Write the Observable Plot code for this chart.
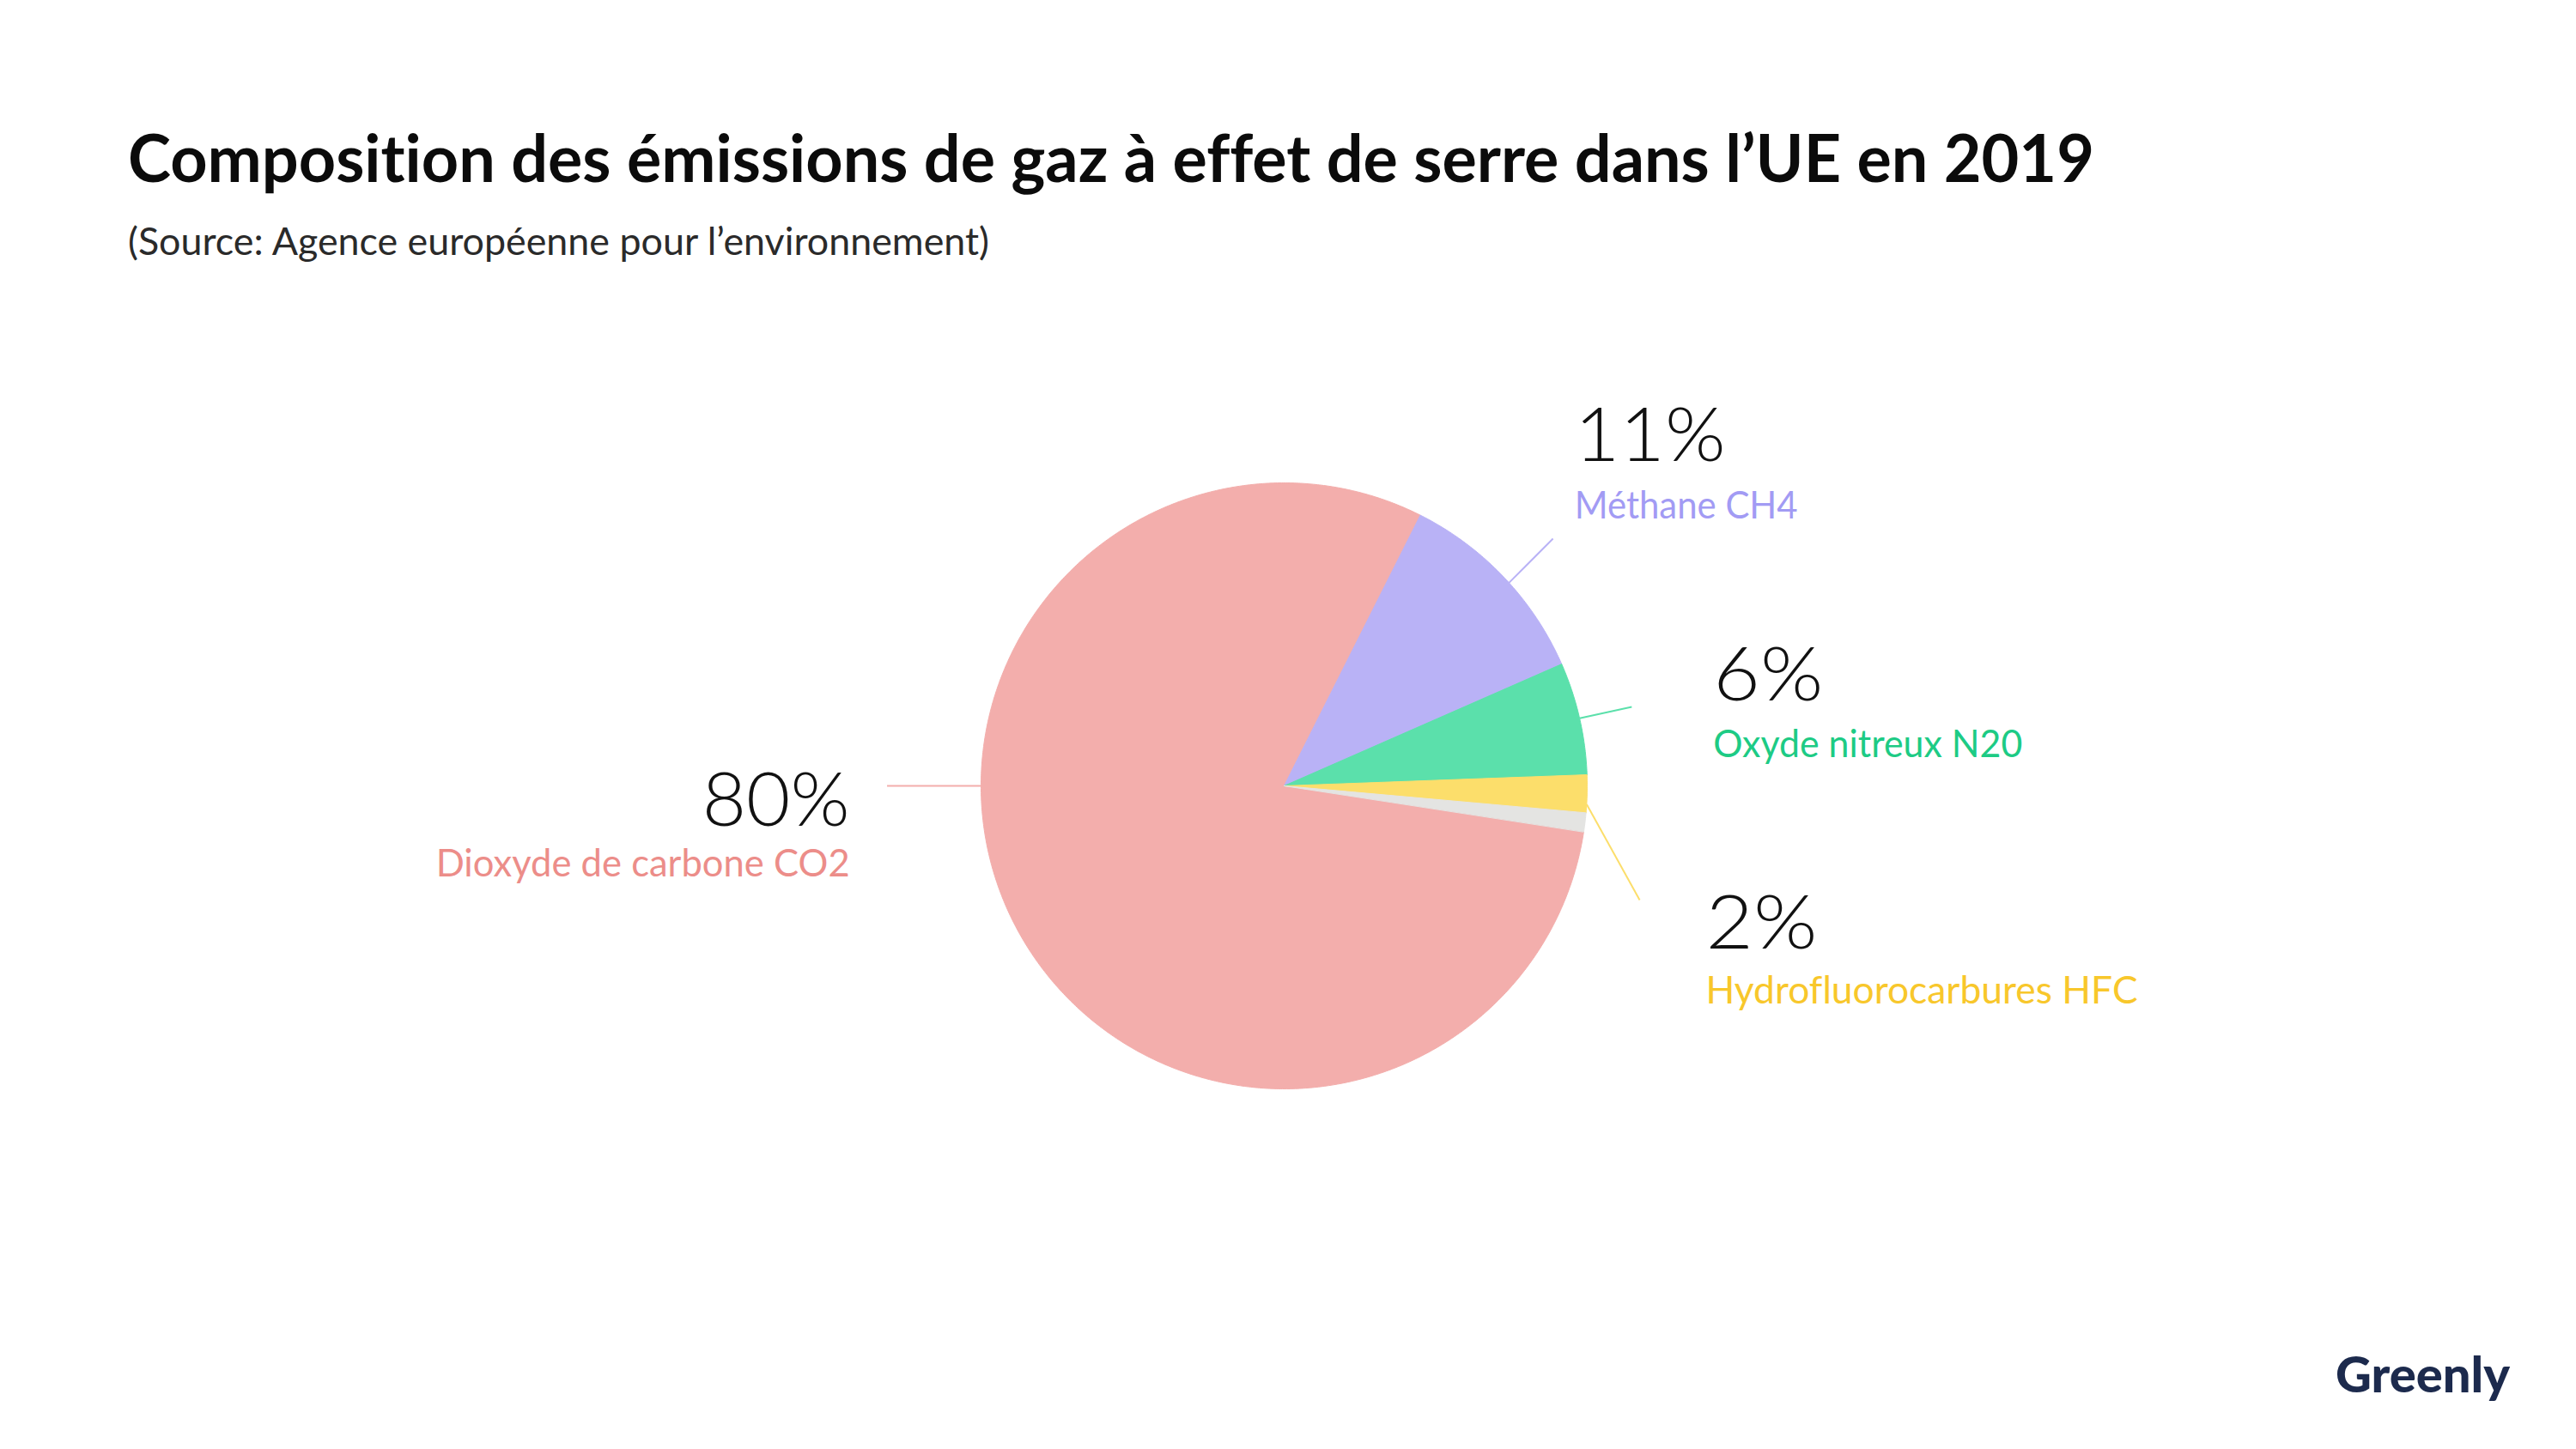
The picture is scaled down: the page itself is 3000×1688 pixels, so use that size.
<!DOCTYPE html>
<html>
<head>
<meta charset="utf-8">
<script src="https://cdn.jsdelivr.net/npm/d3@7"></script>
<script src="https://cdn.jsdelivr.net/npm/@observablehq/plot@0.6"></script>
<style>
  html, body { margin: 0; padding: 0; background: #fff; width: 3000px; height: 1688px; overflow: hidden; font-family: Lato, "Open Sans", sans-serif; font-variant-ligatures: none; font-feature-settings: "liga" 0, "clig" 0; }
  svg text { font-variant-ligatures: none; font-feature-settings: "liga" 0, "clig" 0; }
  .abs { position: absolute; white-space: nowrap; line-height: 1; }
  #title { left: 149px; top: 145px; font-size: 76px; font-weight: 700; color: #0b0b0b; }
  #subtitle { left: 149px; top: 258px; font-size: 45px; font-weight: 400; color: #2a2a2a; }
  #chart { position: absolute; left: 0; top: 360px; }
  #logo { left: 2720px; top: 1571px; font-size: 58px; font-weight: 900; color: #1c2a4d; }
</style>
</head>
<body>
<div id="title" class="abs">Composition des émissions de gaz à effet de serre dans l’UE en 2019</div>
<div id="subtitle" class="abs">(Source: Agence européenne pour l’environnement)</div>
<div id="chart"></div>
<div id="logo" class="abs">Greenly</div>
<script>
// ---- data ----
const gases = ["Dioxyde de carbone CO2", "Méthane CH4", "Oxyde nitreux N20", "Hydrofluorocarbures HFC", "Autres"];
const shares = [80, 11, 6, 2, 1];
const shareLabels = ["80%", "11%", "6%", "2%", ""];

// ---- styles ----
const sliceColors = ["#F3AEAC", "#B9B2F6", "#5BE0AB", "#FCDE6B", "#E4E4E2"];
const labelColors = ["#EC8D89", "#A29BF4", "#1DCB85", "#F8C72B", "#999"];

// ---- layout (pixels / radius units) ----
const W = 3000, H = 1120, SVG_TOP = 360;
const R = 353, CX = 1495, CY = 915;           // pie centre on the page, radius
const START_DEG = 98.7;                        // CO2 slice starts here (clockwise from north)
// per-slice label layout in radius units (y up); leader from rim angle to (angle, radius)
const labelLayout = [
  {from: 270, to: [270, 1.31], tx: -1.433, pctY: -0.055, nameY: -0.258, anchor: "end"},
  {from: 47.9, to: [47.4, 1.205], tx: 0.958, pctY: 1.150, nameY: 0.924, anchor: "start"},
  {from: 77.1, to: [77.2, 1.176], tx: 1.416, pctY: 0.360, nameY: 0.136, anchor: "start"},
  {from: 93.5, to: [107.8, 1.232], tx: 1.391, pctY: -0.459, nameY: -0.677, anchor: "start"},
  null
];
const fitWidths = {
  "80%": 172, "11%": 176, "6%": 128, "2%": 130,
  "Dioxyde de carbone CO2": 482, "Méthane CH4": 260, "Oxyde nitreux N20": 360, "Hydrofluorocarbures HFC": 503
};

const rad = d => d * Math.PI / 180;
const polar = (a, r = 1) => ({x: r * Math.sin(a), y: r * Math.cos(a)});

const rows = gases.map((g, i) => ({gas: g, share: shares[i], label: shareLabels[i], i}));
const arcs = d3.pie().sort(null).value(d => d.share)
  .startAngle(rad(START_DEG)).endAngle(rad(START_DEG) + 2 * Math.PI)(rows);

function slicePoints(a) {
  const n = Math.max(4, Math.ceil((a.endAngle - a.startAngle) / rad(0.4)));
  const pts = [{x: 0, y: 0}];
  for (let k = 0; k <= n; k++) pts.push(polar(a.startAngle + (a.endAngle - a.startAngle) * k / n));
  return pts;
}

const marks = [];
arcs.forEach(a => {
  const c = sliceColors[a.data.i];
  marks.push(Plot.line(slicePoints(a), {x: "x", y: "y", fill: c, stroke: c, strokeWidth: 1, curve: "linear-closed"}));
});
arcs.forEach(a => {
  const L = labelLayout[a.data.i];
  if (!L) return;
  const p1 = polar(rad(L.from)), p2 = polar(rad(L.to[0]), L.to[1]);
  marks.push(Plot.link([a.data], {x1: () => p1.x, y1: () => p1.y, x2: () => p2.x, y2: () => p2.y,
    stroke: sliceColors[a.data.i], strokeWidth: 2}));
  marks.push(Plot.text([a.data], {x: () => L.tx, y: () => L.pctY, text: "label", textAnchor: L.anchor,
    lineAnchor: "middle", fontSize: 86, fontWeight: 300, fontFamily: "Lato", fill: "#111"}));
  marks.push(Plot.text([a.data], {x: () => L.tx, y: () => L.nameY, text: "gas", textAnchor: L.anchor,
    lineAnchor: "middle", fontSize: 45, fontWeight: 400, fontFamily: "Lato", fill: labelColors[a.data.i]}));
});

const chart = Plot.plot({
  width: W, height: H, margin: 0,
  x: {domain: [-CX / R, (W - CX) / R], axis: null},
  y: {domain: [-(H - (CY - SVG_TOP)) / R, (CY - SVG_TOP) / R], axis: null},
  style: {background: "white", overflow: "visible"},
  marks
});
document.getElementById("chart").appendChild(chart);

// fit text widths to the reference
chart.querySelectorAll("text").forEach(t => {
  const w = fitWidths[t.textContent];
  if (w) { t.setAttribute("textLength", w); t.setAttribute("lengthAdjust", "spacingAndGlyphs"); }
});
function fitHTML(id, w) {
  const el = document.getElementById(id);
  const r = el.getBoundingClientRect().width;
  el.style.transformOrigin = "left center";
  el.style.transform = `scaleX(${w / r})`;
}
fitHTML("title", 2290);
fitHTML("subtitle", 1003);
fitHTML("logo", 203);
</script>
</body>
</html>
